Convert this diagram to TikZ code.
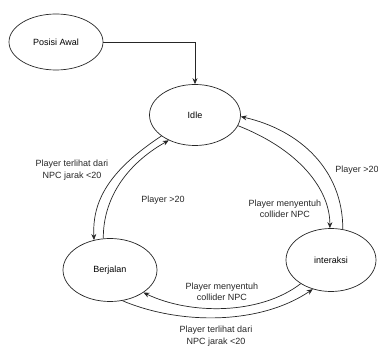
\documentclass[tikz,border=0pt]{standalone}
\usepackage{fontspec}
\setmainfont{Liberation Sans}
\usetikzlibrary{arrows.meta,shapes.geometric}

\tikzset{
  state/.style={draw=black!85, line width=0.7pt, ellipse, inner sep=0pt, fill=white},
  trans/.style={draw=black!85, line width=0.7pt, -{Stealth[length=6pt,width=5pt]}},
  lbl/.style={align=center, inner sep=0pt, font=\fontsize{9}{11.5}\selectfont, text=black!85},
}

\begin{document}
\begin{tikzpicture}[x=1pt, y=-1pt, font=\fontsize{9}{11.5}\selectfont]
  \useasboundingbox (0,0) rectangle (378,347);

  % states
  \node[state, minimum width=94pt, minimum height=56pt] (start) at (56,42) {Posisi Awal};
  \node[state, minimum width=91pt, minimum height=61pt] (idle) at (195,115) {Idle};
  \node[state, minimum width=94pt, minimum height=63pt] (walk) at (110,270) {Berjalan};
  \node[state, minimum width=90pt, minimum height=63pt] (talk) at (331,260) {interaksi};

  % initial transition
  \draw[trans] (start.east) -| (idle.north);

  % Idle <-> Berjalan
  \draw[trans] (idle.212) .. controls (110,170) and (92,200) .. (walk.118);
  \draw[trans] (walk.102) .. controls (103,200) and (125,165) .. (idle.224);

  % Idle <-> interaksi
  \draw[trans] (talk.69) .. controls (343,170) and (300,130) .. (idle.358);
  \draw[trans] (idle.346) .. controls (300,150) and (330,190) .. (talk.92);

  % interaksi <-> Berjalan
  \draw[trans] (talk.218) .. controls (260,315) and (190,315) .. (walk.326);
  \draw[trans] (walk.292) .. controls (180,325) and (260,325) .. (talk.238);

  % transition labels
  \node[lbl] (l1) at (72,170) {Player terlihat dari\\NPC jarak <20};
  \node[lbl] (l2) at (163,200) {Player >20};
  \node[lbl] (l3) at (357,170) {Player >20};
  \node[lbl] (l4) at (285,209) {Player menyentuh\\collider NPC};
  \node[lbl] (l5) at (222,292) {Player menyentuh\\collider NPC};
  \node[lbl] (l6) at (216,336) {Player terlihat dari\\NPC jarak <20};
\end{tikzpicture}
\end{document}
